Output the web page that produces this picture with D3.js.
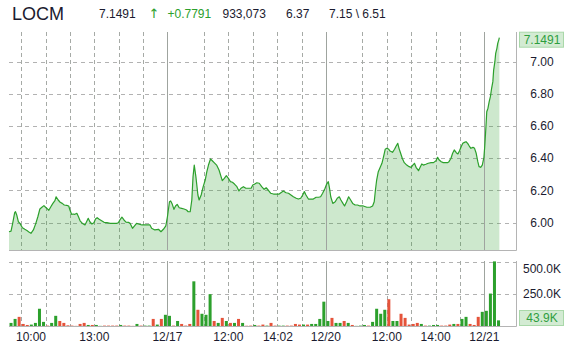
<!DOCTYPE html>
<html>
<head>
<meta charset="utf-8">
<script src="https://cdn.jsdelivr.net/npm/d3@7"></script>
<style>
  body { margin: 0; background: #fff; }
  svg { display: block; font-family: Arial, "Liberation Sans", sans-serif; }
</style>
</head>
<body>
<div id="chart"></div>
<script>
// quote header
var symbol = "LOCM";
var lastPrice = "7.1491";
var change = "+0.7791";
var volumeTotal = "933,073";
var openPrice = "6.37";
var highLow = "7.15 \\ 6.51";

// price: trading minutes since 12/16 09:30 (390 min per session) and price
var priceMin = [0,5,9,14,16,19,23,27,33,39,45,50,54,60,66,71,76,81,86,90,94,98,103,108,113,116,121,126,131,136,142,147,150,154,158,162,167,171,175,179,183,187,191,195,199,204,209,213,217,222,228,234,241,249,257,265,269,273,278,283,288,294,298,304,314,327,339,347,351,359,368,374,380,386,390,
  395,398,402,406,410,414,419,425,431,437,441,446,450,453,456,460,465,468,473,478,483,487,491,496,501,505,511,517,522,525,530,535,540,545,550,555,561,566,571,577,583,589,596,600,604,610,616,622,628,633,638,644,651,659,665,671,675,682,688,694,700,707,712,718,723,727,731,737,743,749,756,762,767,772,778,782,
  786,789,792,797,803,808,813,817,822,826,831,836,841,846,852,858,864,872,881,889,895,899,902,905,909,918,922,926,930,934,938,944,949,953,957,960,964,968,973,979,985,990,994,998,1002,1008,1012,1016,1020,1026,1032,1039,1045,1051,1055,1059,1064,1069,1075,1080,1083,1088,1092,1096,1101,1105,1109,1113,1117,1121,1125,1129,1133,1137,1142,1146,1150,1154,1157,1161,1165,1169,
  1171,1174,1176,1179,1182,1185,1188,1191,1193,1196,1198,1201,1203,1206,1207];
var priceVal = [5.944,5.948,5.996,6.062,6.068,6.048,6.006,5.996,5.969,5.959,5.950,5.940,5.934,5.955,5.996,6.037,6.085,6.096,6.106,6.096,6.087,6.077,6.099,6.120,6.137,6.161,6.141,6.127,6.120,6.110,6.108,6.104,6.079,6.052,6.054,6.052,6.058,6.037,6.012,6.000,5.992,5.986,6.006,6.027,6.006,5.992,6.000,6.023,6.031,6.021,6.012,6.002,6.000,5.996,5.996,5.996,6.000,6.017,6.034,6.017,6.004,6.002,5.996,5.965,5.996,5.986,5.986,5.986,5.965,5.955,5.959,5.944,5.959,5.980,6.037,
  6.130,6.135,6.114,6.083,6.104,6.114,6.093,6.089,6.085,6.079,6.068,6.068,6.141,6.286,6.358,6.286,6.172,6.141,6.172,6.224,6.265,6.317,6.358,6.396,6.383,6.373,6.358,6.327,6.286,6.261,6.276,6.292,6.276,6.255,6.251,6.240,6.224,6.197,6.214,6.224,6.214,6.214,6.214,6.234,6.239,6.248,6.245,6.224,6.207,6.217,6.203,6.183,6.178,6.178,6.178,6.189,6.197,6.186,6.183,6.172,6.161,6.152,6.147,6.152,6.172,6.193,6.172,6.147,6.147,6.147,6.158,6.158,6.161,6.183,6.214,6.240,
  6.255,6.214,6.161,6.120,6.130,6.152,6.161,6.141,6.120,6.104,6.130,6.161,6.141,6.120,6.110,6.110,6.104,6.104,6.096,6.096,6.104,6.130,6.203,6.265,6.317,6.369,6.410,6.456,6.462,6.458,6.445,6.437,6.456,6.476,6.493,6.462,6.431,6.400,6.373,6.358,6.348,6.344,6.358,6.369,6.344,6.323,6.344,6.365,6.358,6.363,6.369,6.373,6.373,6.385,6.406,6.389,6.379,6.373,6.373,6.373,6.379,6.400,6.431,6.452,6.435,6.427,6.447,6.472,6.493,6.499,6.503,6.493,6.476,6.462,6.468,6.462,6.431,6.379,6.348,6.344,6.358,6.406,
  6.472,6.596,6.689,6.711,6.752,6.783,6.835,6.876,6.948,7.000,7.052,7.083,7.114,7.139,7.1491];

// volume per 10-minute bar (thousands) and direction (1 up, 0 down)
var volK = [24,55,71,16,8,11,24,134,32,3,24,79,39,24,5,3,1,16,24,8,8,8,1,3,3,3,3,8,3,3,1,16,3,3,3,55,11,55,87,
  79,3,39,16,3,16,347,126,95,87,247,39,24,63,39,24,24,55,24,2,3,8,3,11,3,24,3,3,3,3,3,16,11,11,11,16,16,55,189,
  39,63,24,24,39,24,8,1,3,8,3,32,134,95,126,208,39,39,95,63,11,16,24,16,3,3,8,8,3,3,11,16,16,55,71,16,8,71,110,
  118,252,502,43.9];
var volUp = [1,1,0,0,0,1,1,1,1,0,1,1,0,0,0,0,0,0,0,1,0,1,1,0,0,0,0,1,0,0,0,1,0,1,1,0,1,0,1,
  1,0,1,0,0,0,1,0,1,1,1,0,1,0,1,0,1,0,1,0,0,1,0,0,1,0,0,1,1,0,0,0,0,1,0,1,1,1,1,
  1,0,1,1,0,1,0,1,1,1,0,1,1,1,1,0,1,1,0,0,0,0,0,1,0,1,1,1,0,0,0,1,0,1,1,0,0,0,1,
  1,1,1,1];
var lastVolume = "43.9K";

// grid and axis
var hourLines = [30,90,150,210,270,330, 480,540,600,660,720, 870,930,990,1050,1110];
var dayLines = [390,780,1170];
var tickMin = [30,210,390,540,662,780,930,1050,1170];
var tickText = ["10:00","13:00","12/17","12:00","14:02","12/20","12:00","14:00","12/21"];
var priceTicks = [6.0,6.2,6.4,6.6,6.8,7.0];
var volTicks = [250000,500000];

var W = 566, H = 351;
var left = 9, right = 516;
var pTop = 32, pBottom = 250, vTop = 261, vBottom = 326;
var labelX = 542;

var green = "#2ca02c", red = "#e5533a", grid = "#a6aaa6", ink = "#1b1b2f";

var x = d3.scaleLinear().domain([0, 1248]).range([left, right]);
var y = d3.scaleLinear().domain([5.8304, 7.1845]).range([pBottom, pTop]);
var yv = d3.scaleLinear().domain([0, 505000]).range([vBottom, vTop]);

var price = priceMin.map((m, i) => ({m: m, p: priceVal[i]}));
var vol = volK.map((v, i) => ({i: i, v: v * 1000, up: volUp[i]}));

var svg = d3.select("#chart").append("svg")
  .attr("width", W)
  .attr("height", H);

svg.append("rect").attr("width", W).attr("height", H).attr("fill", "#fff");

// header
var head = svg.append("g").attr("fill", ink);
head.append("text").attr("x", 12).attr("y", 19.5).attr("font-size", 18).text(symbol);
head.append("text").attr("x", 99).attr("y", 17.5).attr("font-size", 12).text(lastPrice);
head.append("text").attr("x", 148.5).attr("y", 17.5).attr("font-size", 13)
  .attr("font-family", "'DejaVu Sans', sans-serif").attr("fill", green).text("\u2191");
head.append("text").attr("x", 167.5).attr("y", 17.5).attr("font-size", 12).attr("fill", green).text(change);
head.append("text").attr("x", 222.5).attr("y", 17.5).attr("font-size", 12).text(volumeTotal);
head.append("text").attr("x", 286).attr("y", 17.5).attr("font-size", 12).text(openPrice);
head.append("text").attr("x", 329).attr("y", 17.5).attr("font-size", 12).text(highLow);

// horizontal grid
svg.append("g").selectAll("line").data(priceTicks).enter().append("line")
  .attr("x1", left).attr("x2", right + 5)
  .attr("y1", d => Math.round(y(d)) + 0.5).attr("y2", d => Math.round(y(d)) + 0.5)
  .attr("stroke", "#b2b2b2").attr("stroke-dasharray", "4,4");

svg.append("g").selectAll("line").data(volTicks).enter().append("line")
  .attr("x1", left).attr("x2", right)
  .attr("y1", d => Math.round(yv(d)) + 0.5).attr("y2", d => Math.round(yv(d)) + 0.5)
  .attr("stroke", "#b2b2b2").attr("stroke-dasharray", "4,4");

// vertical grid, both panels
[[pTop, pBottom], [vTop, vBottom]].forEach(function(r) {
  svg.append("g").selectAll("line").data(hourLines).enter().append("line")
    .attr("x1", d => Math.round(x(d)) + 0.5).attr("x2", d => Math.round(x(d)) + 0.5)
    .attr("y1", r[0]).attr("y2", r[1])
    .attr("stroke", grid).attr("stroke-dasharray", "4,3");
});

// price area + line
var area = d3.area()
  .x(d => x(d.m))
  .y0(pBottom)
  .y1(d => y(d.p));

var line = d3.line()
  .x(d => x(d.m))
  .y(d => y(d.p));

svg.append("path")
  .datum(price)
  .attr("d", area)
  .attr("fill", green)
  .attr("fill-opacity", 0.24);

// day separators
[[pTop, pBottom], [vTop, vBottom]].forEach(function(r) {
  svg.append("g").selectAll("line").data(dayLines).enter().append("line")
    .attr("x1", d => Math.round(x(d)) + 0.5).attr("x2", d => Math.round(x(d)) + 0.5)
    .attr("y1", r[0]).attr("y2", r[1])
    .attr("stroke", "#9fa49f");
});

svg.append("path")
  .datum(price)
  .attr("d", line)
  .attr("fill", "none")
  .attr("stroke", green)
  .attr("stroke-width", 1.2)
  .attr("stroke-linejoin", "round");

// volume bars
svg.append("g").selectAll("rect").data(vol).enter().append("rect")
  .attr("x", d => x(d.i * 10 + 5) - 1.5)
  .attr("width", 3)
  .attr("y", d => yv(d.v))
  .attr("height", d => Math.max(1, vBottom - yv(d.v)))
  .attr("fill", d => d.up ? green : red);

// frame
var frame = svg.append("g").attr("stroke", "#b4b4b4").attr("fill", "none");
frame.append("path").attr("d", "M" + left + "," + (pBottom + 0.5) + "H" + (right + 0.5) + "V" + pTop);
frame.append("path").attr("d", "M" + left + "," + (vBottom + 0.5) + "H" + (right + 0.5) + "V" + vTop);

// price labels
svg.append("g").selectAll("text").data(priceTicks).enter().append("text")
  .attr("x", labelX).attr("y", d => y(d)).attr("dy", "0.35em")
  .attr("text-anchor", "middle").attr("font-size", 12).attr("fill", ink)
  .text(d3.format(".2f"));

// volume labels (kept inside panel top)
svg.append("g").selectAll("text").data(volTicks).enter().append("text")
  .attr("x", labelX).attr("y", d => Math.max(yv(d), vTop + 8)).attr("dy", "0.35em")
  .attr("text-anchor", "middle").attr("font-size", 12).attr("fill", ink)
  .text(d => d3.format(".1f")(d / 1000) + "K");

// last price / last volume badges
function badge(cy, txt) {
  var g = svg.append("g");
  g.append("rect").attr("x", 519.5).attr("y", cy - 7.5).attr("width", 44).attr("height", 15)
    .attr("fill", "#d3ebd3").attr("stroke", "#a9d8a9");
  g.append("text").attr("x", labelX).attr("y", cy).attr("dy", "0.35em")
    .attr("text-anchor", "middle").attr("font-size", 12).attr("fill", "#2e9e3e").text(txt);
}
badge(y(priceVal[priceVal.length - 1]) + 2, lastPrice);
badge(318, lastVolume);

// time labels
var tl = svg.append("g").selectAll("text").data(tickMin).enter().append("text")
  .attr("y", 337).attr("dy", "0.35em")
  .attr("font-size", 12).attr("fill", ink)
  .text((d, i) => tickText[i]);
tl.each(function(d) {
  var w = this.getComputedTextLength();
  var lx = Math.max(x(d) - w / 2, left + 7);
  d3.select(this).attr("x", lx);
});
</script>
</body>
</html>
